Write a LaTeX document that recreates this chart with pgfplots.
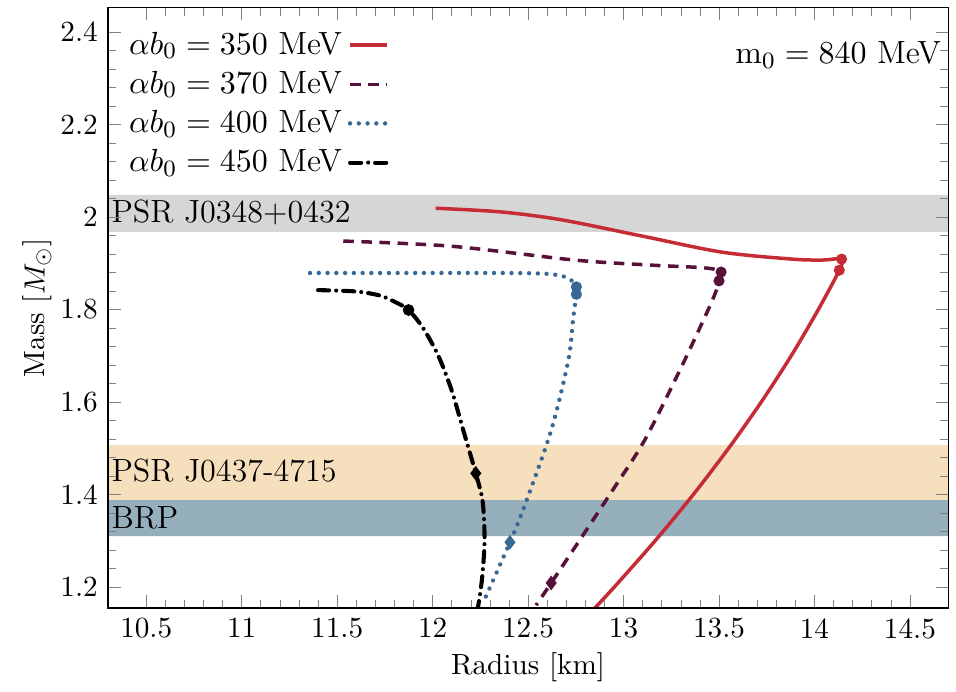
\documentclass[border=0pt]{standalone}
\usepackage{pgfplots}
\pgfplotsset{compat=1.18}
\definecolor{cRed}{RGB}{198,44,54}
\definecolor{cPur}{RGB}{88,18,58}
\definecolor{cBlu}{RGB}{56,104,150}
\definecolor{bGray}{RGB}{214,214,214}
\definecolor{bOrange}{RGB}{246,223,188}
\definecolor{bBlue}{RGB}{150,175,189}
\begin{document}
\begin{tikzpicture}
\begin{axis}[name=ax,
  scale only axis, width=287.7pt, height=205.5pt,
  xmin=10.3, xmax=14.7, ymin=1.155, ymax=2.452,
  xtick={10.5,11,...,14.5}, ytick={1.2,1.4,...,2.41},
  minor x tick num=4, minor y tick num=4,
  xticklabels={10.5,11,11.5,12,12.5,13,13.5,14,14.5},
  yticklabels={1.2,1.4,1.6,1.8,2,2.2,2.4},
  xlabel={Radius [km]}, ylabel={Mass [$M_\odot$]},
  ylabel shift=-4pt, xlabel shift=-2pt,
  axis on top, clip=true,
  legend style={draw=none, fill=none, at={(0,1)}, anchor=north west, xshift=2pt, yshift=-4pt,
    font=\fontsize{11}{13}\selectfont, row sep=0.3pt, cells={anchor=west}},
  legend plot pos=right,
  legend image code/.code={\draw[#1] (0cm,0cm) -- (0.45cm,0cm);},
]
% bands
\addplot[draw=none, fill=bGray, forget plot] coordinates {(10.3,1.968) (14.7,1.968) (14.7,2.048) (10.3,2.048) (10.3,1.968)};
\addplot[draw=none, fill=bOrange, forget plot] coordinates {(10.3,1.388) (14.7,1.388) (14.7,1.507) (10.3,1.507) (10.3,1.388)};
\addplot[draw=none, fill=bBlue, forget plot] coordinates {(10.3,1.310) (14.7,1.310) (14.7,1.388) (10.3,1.388) (10.3,1.310)};
% curves
\addplot[cRed, line width=1.2pt, smooth] coordinates {
(12.016,2.019) (12.358,2.011) (12.674,1.994) (13.095,1.959) (13.516,1.924) (13.884,1.909) (14.042,1.907) (14.142,1.909) (14.13,1.885) (14.020,1.80) (13.878,1.70) (13.721,1.60) (13.550,1.50) (13.365,1.40) (13.165,1.30) (12.951,1.20) (12.839,1.15)};
\addlegendentry{$\alpha b_0 = 350$ MeV}
\addplot[cPur, line width=1.2pt, dash pattern=on 3.6pt off 2.6pt, smooth] coordinates {
(11.532,1.948) (12.095,1.937) (12.742,1.907) (13.147,1.896) (13.426,1.890) (13.511,1.881) (13.50,1.857) (13.447,1.803) (13.295,1.669) (13.111,1.518) (12.953,1.416) (12.795,1.317) (12.621,1.209) (12.542,1.161)};
\addlegendentry{$\alpha b_0 = 370$ MeV}
\addplot[cBlu, line width=1.5pt, line cap=round, dash pattern=on 0pt off 3pt, smooth] coordinates {
(11.358,1.879) (11.832,1.879) (12.358,1.879) (12.605,1.877) (12.71,1.868) (12.753,1.849) (12.753,1.831) (12.737,1.784) (12.711,1.691) (12.621,1.539) (12.479,1.373) (12.405,1.297) (12.263,1.165)};
\addlegendentry{$\alpha b_0 = 400$ MeV}
\addplot[black, line width=1.4pt, line cap=round, dash pattern=on 3.8pt off 2.4pt on 0pt off 2.4pt, smooth] coordinates {
(11.40,1.842) (11.60,1.839) (11.726,1.830) (11.805,1.816) (11.874,1.799) (11.950,1.760) (12.030,1.700) (12.100,1.625) (12.160,1.540) (12.226,1.446) (12.262,1.385) (12.272,1.300) (12.258,1.215) (12.235,1.15)};
\addlegendentry{$\alpha b_0 = 450$ MeV}
% markers
\addplot[only marks, mark=*, mark size=1.7pt, cRed, forget plot] coordinates {(14.142,1.909) (14.13,1.885)};
\addplot[only marks, mark=*, mark size=1.7pt, cPur, forget plot] coordinates {(13.511,1.881) (13.50,1.862)};
\addplot[only marks, mark=*, mark size=1.7pt, cBlu, forget plot] coordinates {(12.753,1.849) (12.753,1.833)};
\addplot[only marks, mark=*, mark size=1.8pt, black, forget plot] coordinates {(11.874,1.799)};
\addplot[only marks, mark=diamond*, mark size=2.2pt, cPur, forget plot] coordinates {(12.621,1.209)};
\addplot[only marks, mark=diamond*, mark size=2.2pt, cBlu, forget plot] coordinates {(12.405,1.297)};
\addplot[only marks, mark=diamond*, mark size=2.2pt, black, forget plot] coordinates {(12.226,1.446)};
% labels
\node[anchor=west, inner sep=1pt, font=\fontsize{11}{13}\selectfont] at (axis cs:10.3,2.009) {PSR J0348+0432};
\node[anchor=west, inner sep=1pt, font=\fontsize{11}{13}\selectfont] at (axis cs:10.3,1.453) {PSR J0437-4715};
\node[anchor=west, inner sep=1pt, font=\fontsize{11}{13}\selectfont] at (axis cs:10.3,1.349) {BRP};
\node[anchor=east, inner sep=1pt, font=\fontsize{11}{13}\selectfont] at (axis cs:14.68,2.350) {$\mathrm{m}_0 = 840$ MeV};
\end{axis}
\path (ax.south west) ++(-37pt,-20.2pt);
\path (ax.north east) ++(2.7pt,2.7pt);
\end{tikzpicture}
\end{document}
